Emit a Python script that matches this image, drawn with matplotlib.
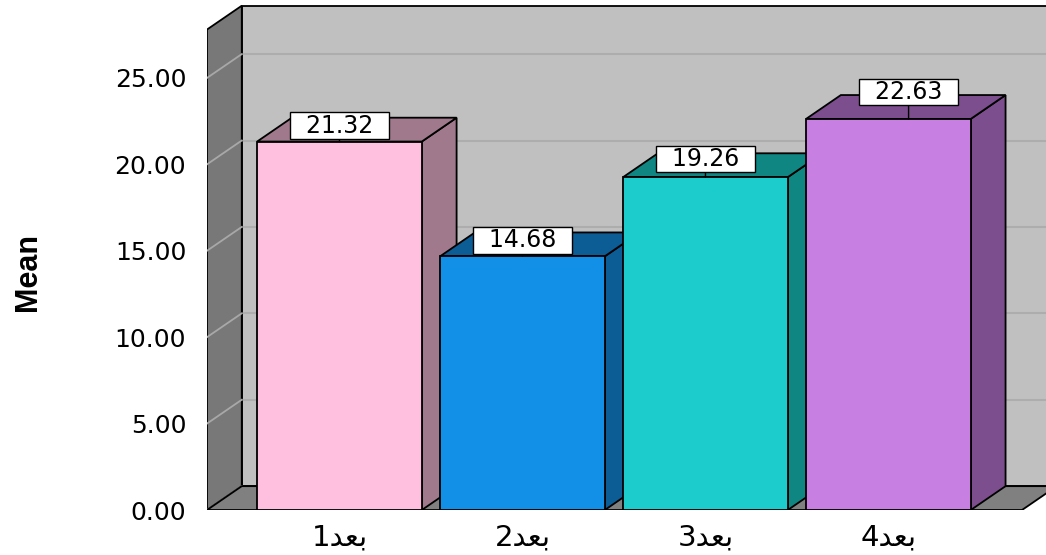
import matplotlib.pyplot as plt
from matplotlib.patches import Polygon, Rectangle

# المتوسطات لكل بعد
categories = ["بعد1", "بعد2", "بعد3", "بعد4"]
means = [21.32, 14.68, 19.26, 22.63]
y_ticks = [0, 5, 10, 15, 20, 25]

# matplotlib does not shape Arabic, so the labels are written in display order
# (digit, final dal, medial ain, initial beh)
tick_labels = ["1\ufeaa\ufecc\ufe91", "2\ufeaa\ufecc\ufe91",
               "3\ufeaa\ufecc\ufe91", "4\ufeaa\ufecc\ufe91"]

front_colors = ["#ffc0e0", "#1290e8", "#1ccccc", "#c87fe2"]
side_colors = ["#a07a8c", "#0c5c96", "#0f8682", "#7d4e8e"]

# pseudo-3D depth, in data units
DX = 0.19
DY = 1.38
BAR_W = 0.90
WALL_X = -0.724
FLOOR_X1 = 3.73
TOP = 27.8

fig = plt.figure(figsize=(10.46, 5.55), dpi=100)
ax = fig.add_axes([207 / 1046, 45 / 555, 839 / 1046, 510 / 555])
ax.set_xlim(WALL_X, 3.861)
ax.set_ylim(0, 29.51)
for s in ax.spines.values():
    s.set_visible(False)
ax.patch.set_alpha(0)

edge = dict(edgecolor="black", linewidth=1.3, joinstyle="miter")

# back wall
ax.add_patch(Rectangle((WALL_X + DX, DY), 5, TOP, facecolor="#c0c0c0",
                       zorder=1, **edge))
# left wall
ax.add_patch(Polygon([(WALL_X, 0), (WALL_X + DX, DY), (WALL_X + DX, TOP + DY),
                      (WALL_X, TOP)], facecolor="#787878", zorder=2, **edge))
# floor
ax.add_patch(Polygon([(WALL_X, 0), (FLOOR_X1, 0), (FLOOR_X1 + DX, DY),
                      (WALL_X + DX, DY)], facecolor="#808080", zorder=3, **edge))

# grid lines on the walls
for t in y_ticks:
    if t > 0:
        ax.plot([WALL_X + DX, 4.2], [t + DY, t + DY], color="#adadad",
                lw=1.5, zorder=1.5, solid_capstyle="butt")
    ax.plot([WALL_X, WALL_X + DX], [t, t + DY], color="#a8a8a8",
            lw=1.3, zorder=2.5)

# bars: side face, top face, then front face
for i, (v, fc, sc) in enumerate(zip(means, front_colors, side_colors)):
    x0 = i - BAR_W / 2
    x1 = i + BAR_W / 2
    z = 4 + i
    ax.add_patch(Polygon([(x1, 0), (x1 + DX, DY), (x1 + DX, v + DY), (x1, v)],
                         facecolor=sc, zorder=z, **edge))
    ax.add_patch(Polygon([(x0, v), (x1, v), (x1 + DX, v + DY), (x0 + DX, v + DY)],
                         facecolor=sc, zorder=z, **edge))
    ax.add_patch(Rectangle((x0, 0), BAR_W, v, facecolor=fc, zorder=z + 0.5, **edge))

# value labels: (x shift in data units, lift in points)
label_shift = [(0, 11.5), (0, 11.5), (0, 13), (0.11, 19.5)]
for i, v in enumerate(means):
    sx, sy = label_shift[i]
    ax.annotate(f"  {v:.2f}  ", xy=(i + sx, v), xytext=(0, sy),
                textcoords="offset points", ha="center", va="center",
                fontsize=17, family="DejaVu Sans", zorder=20,
                bbox=dict(boxstyle="square,pad=0.05", fc="white", ec="black", lw=1),
                arrowprops=dict(arrowstyle="-", color="black", lw=1,
                                shrinkA=0, shrinkB=0))

ax.set_yticks(y_ticks)
ax.set_yticklabels([f"{t:.2f}" for t in y_ticks], family="DejaVu Sans", fontsize=18)
ax.set_xticks(range(len(categories)))
ax.set_xticklabels(tick_labels, family="DejaVu Sans", fontsize=21)
ax.tick_params(axis="y", length=0, pad=15)
ax.tick_params(axis="x", length=0, pad=10)

ax.set_ylabel("Mean", family="Liberation Sans", fontweight="bold", fontsize=22)
ax.yaxis.set_label_coords(-0.195, 0.467)

fig.savefig("out.png", dpi=100)
